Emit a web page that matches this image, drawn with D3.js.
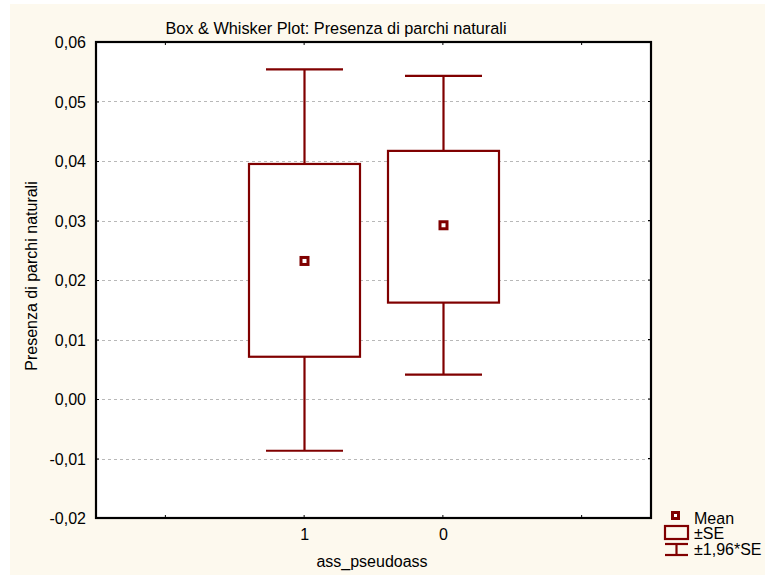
<!DOCTYPE html>
<html>
<head>
<meta charset="utf-8">
<script src="https://cdn.jsdelivr.net/npm/d3@7/dist/d3.min.js"></script>
<style>
  html, body { margin: 0; padding: 0; background: #ffffff; }
  svg { display: block; }
  text { font-family: Arial, "Liberation Sans", sans-serif; fill: #000; }
</style>
</head>
<body>
<svg id="chart" width="765" height="575"></svg>
<script>
// Groups along the x axis (empty slots pad both ends)
const groups = ["", "1", "0", ""];

// Summary statistics per group
const means       = [0.0232, 0.0292];
const seLow       = [0.0071, 0.0162];
const seHigh      = [0.0395, 0.0417];
const ciLow       = [-0.0087, 0.0041];
const ciHigh      = [0.0554, 0.0543];

// Y axis ticks
const yTicks = [-0.02, -0.01, 0.00, 0.01, 0.02, 0.03, 0.04, 0.05, 0.06];

const title = "Box & Whisker Plot: Presenza di parchi naturali";
const yTitle = "Presenza di parchi naturali";
const xTitle = "ass_pseudoass";
const legendItems = ["Mean", "±SE", "±1,96*SE"];

const dark = "#800000";
const svg = d3.select("#chart");

// Page background panel
svg.append("rect").attr("x", 10).attr("y", 4).attr("width", 755).attr("height", 571)
  .attr("fill", "#fdf9ee");

const plot = { left: 96, top: 42, right: 651, bottom: 518 };

const x = d3.scalePoint().domain(groups.map((d, i) => i)).range([plot.left, plot.right]).padding(0.5);
const step = x.step();
const y = d3.scaleLinear().domain([-0.02, 0.06]).range([plot.bottom, plot.top]);

const fmt = v => d3.format(".2f")(v).replace(".", ",").replace("−", "-");

// Plot area
svg.append("rect").attr("x", plot.left).attr("y", plot.top)
  .attr("width", plot.right - plot.left).attr("height", plot.bottom - plot.top)
  .attr("fill", "#ffffff");

// Dashed grid lines
svg.append("g").selectAll("line").data(yTicks.slice(1, -1)).join("line")
  .attr("x1", plot.left).attr("x2", plot.right)
  .attr("y1", d => Math.round(y(d)) + 0.5).attr("y2", d => Math.round(y(d)) + 0.5)
  .attr("stroke", "#b8b8b8").attr("stroke-width", 1).attr("stroke-dasharray", "3,3");

// Boxes and whiskers
const idx = [1, 2];
const boxW = step * 0.8;
const capW = step * 0.555;
const g = svg.append("g").attr("stroke", dark).attr("fill", "none");

idx.forEach((gi, k) => {
  const cx = Math.round(x(gi)) + 0.5;
  // whisker stems
  g.append("line").attr("x1", cx).attr("x2", cx)
    .attr("y1", y(ciHigh[k])).attr("y2", y(seHigh[k])).attr("stroke-width", 2.2);
  g.append("line").attr("x1", cx).attr("x2", cx)
    .attr("y1", y(seLow[k])).attr("y2", y(ciLow[k])).attr("stroke-width", 2.2);
  // caps
  [ciHigh[k], ciLow[k]].forEach(v => {
    g.append("line").attr("x1", cx - capW / 2).attr("x2", cx + capW / 2)
      .attr("y1", y(v)).attr("y2", y(v)).attr("stroke-width", 2.2);
  });
  // SE box
  g.append("rect").attr("x", cx - boxW / 2).attr("y", y(seHigh[k]))
    .attr("width", boxW).attr("height", y(seLow[k]) - y(seHigh[k]))
    .attr("fill", "#ffffff").attr("stroke-width", 2.2);
  // mean marker
  g.append("rect").attr("x", cx - 3.5).attr("y", y(means[k]) - 3.5)
    .attr("width", 7).attr("height", 7).attr("fill", "#ffffff").attr("stroke-width", 3);
});

// Frame
svg.append("rect").attr("x", plot.left).attr("y", plot.top)
  .attr("width", plot.right - plot.left).attr("height", plot.bottom - plot.top)
  .attr("fill", "none").attr("stroke", "#000").attr("stroke-width", 2.2);

// Y axis ticks and labels
const yAxis = d3.axisLeft(y).tickValues(yTicks).tickSize(3).tickFormat(fmt).tickPadding(8);
const ya = svg.append("g").attr("transform", `translate(${plot.left},0)`).call(yAxis);
ya.select(".domain").remove();
ya.selectAll(".tick line").attr("stroke", "#000").attr("x2", 3);
ya.selectAll(".tick text").style("font-size", "16px").attr("font-family", null).attr("x", -10).attr("dy", "0.36em");

// right-side tick marks
svg.append("g").selectAll("line").data(yTicks).join("line")
  .attr("x1", plot.right - 3).attr("x2", plot.right)
  .attr("y1", d => y(d)).attr("y2", d => y(d)).attr("stroke", "#000");

// X axis ticks and labels
const xAxis = d3.axisBottom(x).tickSize(0).tickPadding(11)
  .tickFormat(i => groups[i]);
const xa = svg.append("g").attr("transform", `translate(0,${plot.bottom})`).call(xAxis);
xa.select(".domain").remove();
xa.selectAll(".tick text").style("font-size", "16px").attr("font-family", null);
[plot.top, plot.bottom].forEach((yy, j) => {
  svg.append("g").selectAll("line").data(groups.map((d, i) => i)).join("line")
    .attr("x1", i => x(i)).attr("x2", i => x(i))
    .attr("y1", yy).attr("y2", j === 0 ? yy + 3 : yy - 3).attr("stroke", "#000");
});

// Titles
svg.append("text").attr("x", 336).attr("y", 34).attr("text-anchor", "middle")
  .style("font-size", "16.3px").text(title);
svg.append("text").attr("transform", "translate(37,276) rotate(-90)")
  .attr("text-anchor", "middle").style("font-size", "16px").text(yTitle);
svg.append("text").attr("x", 372).attr("y", 567).attr("text-anchor", "middle")
  .style("font-size", "16px").text(xTitle);

// Legend
const lg = svg.append("g");
lg.append("rect").attr("x", 672.5).attr("y", 512.5).attr("width", 6).attr("height", 6)
  .attr("fill", "#fff").attr("stroke", dark).attr("stroke-width", 3);
lg.append("rect").attr("x", 665).attr("y", 526).attr("width", 23).attr("height", 13)
  .attr("fill", "none").attr("stroke", dark).attr("stroke-width", 2.2);
lg.append("line").attr("x1", 665).attr("x2", 688).attr("y1", 544).attr("y2", 544).attr("stroke", dark).attr("stroke-width", 2.2);
lg.append("line").attr("x1", 665).attr("x2", 688).attr("y1", 555).attr("y2", 555).attr("stroke", dark).attr("stroke-width", 2.2);
lg.append("line").attr("x1", 676.5).attr("x2", 676.5).attr("y1", 544).attr("y2", 555).attr("stroke", dark).attr("stroke-width", 2.2);
lg.selectAll("text.item").data(legendItems).join("text").attr("class", "item")
  .attr("x", 694).attr("y", (d, i) => 523.5 + i * 15.5)
  .style("font-size", "16px").text(d => d);
</script>
</body>
</html>
